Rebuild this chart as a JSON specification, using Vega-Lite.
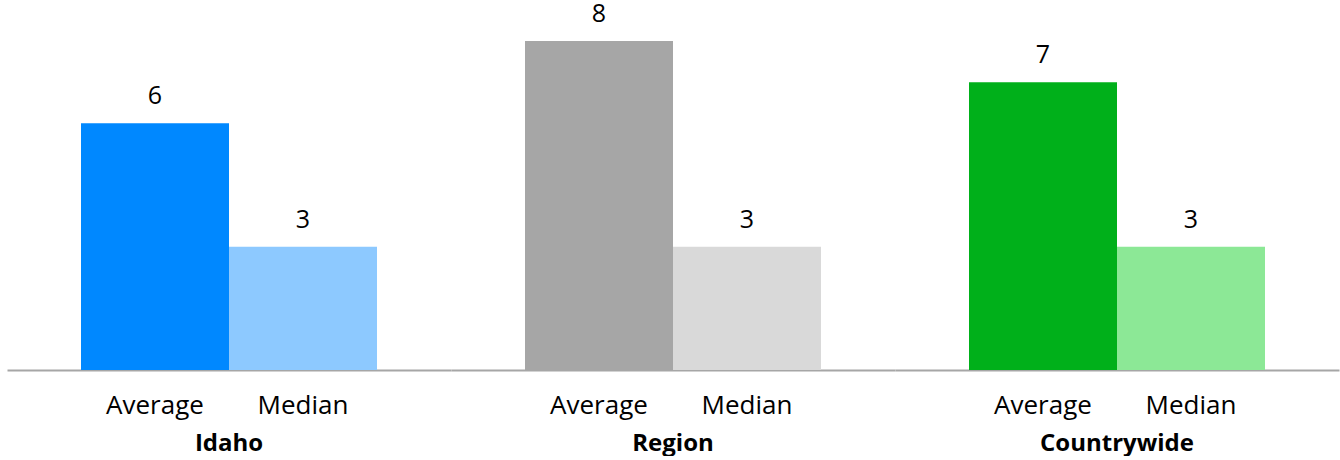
{
  "$schema": "https://vega.github.io/schema/vega-lite/v6.json",
  "padding": {"left": 7, "top": 0, "right": 1, "bottom": 0},
  "background": "white",
  "data": {"values": [
    {"group": "Idaho", "measure": "Average", "key": "Idaho Average", "value": 6},
    {"group": "Idaho", "measure": "Median", "key": "Idaho Median", "value": 3},
    {"group": "Region", "measure": "Average", "key": "Region Average", "value": 8},
    {"group": "Region", "measure": "Median", "key": "Region Median", "value": 3},
    {"group": "Countrywide", "measure": "Average", "key": "Countrywide Average", "value": 7},
    {"group": "Countrywide", "measure": "Median", "key": "Countrywide Median", "value": 3}
  ]},
  "facet": {
    "column": {
      "field": "group",
      "type": "nominal",
      "sort": ["Idaho", "Region", "Countrywide"],
      "header": {
        "title": null,
        "labelOrient": "bottom",
        "labelFont": "Open Sans",
        "labelFontSize": 24,
        "labelFontWeight": "bold",
        "labelColor": "black",
        "labelPadding": 14
      }
    }
  },
  "spacing": 0,
  "spec": {
    "width": 444,
    "height": 370,
    "encoding": {
      "x": {
        "field": "measure",
        "type": "nominal",
        "sort": ["Average", "Median"],
        "scale": {"paddingInner": 0, "paddingOuter": 0.5},
        "axis": {
          "title": null,
          "labelAngle": 0,
          "ticks": false,
          "domainColor": "#a6a6a6",
          "domainWidth": 2,
          "labelFont": "Open Sans",
          "labelFontSize": 26,
          "labelColor": "black",
          "labelPadding": 22
        }
      },
      "y": {
        "field": "value",
        "type": "quantitative",
        "scale": {"domain": [0, 9], "nice": false},
        "axis": null
      }
    },
    "layer": [
      {
        "mark": {"type": "bar"},
        "encoding": {
          "color": {
            "field": "key",
            "type": "nominal",
            "scale": {
              "domain": ["Idaho Average", "Idaho Median", "Region Average", "Region Median", "Countrywide Average", "Countrywide Median"],
              "range": ["#0088ff", "#8dc9ff", "#a6a6a6", "#d9d9d9", "#00b01a", "#8ce896"]
            },
            "legend": null
          }
        }
      },
      {
        "mark": {"type": "text", "baseline": "alphabetic", "dy": -19, "font": "Open Sans", "fontSize": 25, "color": "black"},
        "encoding": {"text": {"field": "value", "type": "quantitative"}}
      }
    ]
  },
  "config": {"view": {"stroke": null}}
}
